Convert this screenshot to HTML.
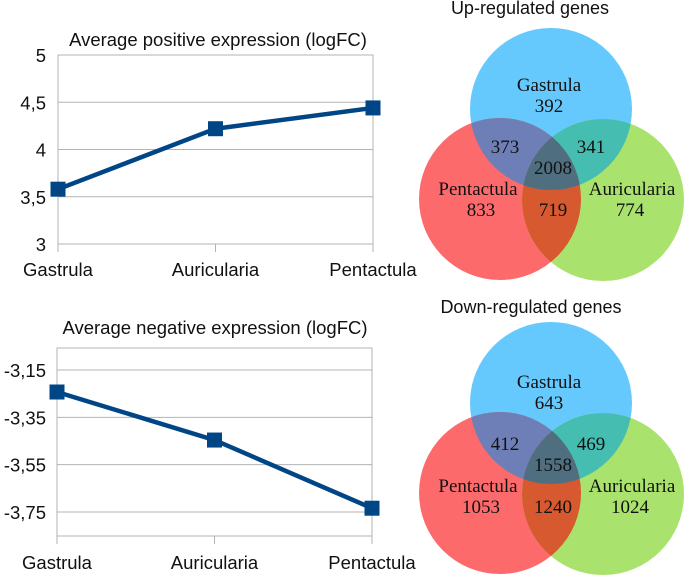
<!DOCTYPE html>
<html><head><meta charset="utf-8"><style>
body{margin:0;background:#fff;width:685px;height:576px;overflow:hidden}
svg{display:block}
.s{font-family:"Liberation Sans",sans-serif;fill:#111}
.v{font-family:"Liberation Serif",serif;font-size:19px;fill:#111;text-anchor:middle}
</style></head><body>
<svg id="c" width="685" height="576">
<text class="s" x="530" y="14" font-size="18" text-anchor="middle">Up-regulated genes</text>
<text class="s" x="531" y="313" font-size="18" text-anchor="middle">Down-regulated genes</text>
</svg>
<script>
const categories=["Gastrula","Auricularia","Pentactula"];
const posValues=[3.58,4.22,4.44];
const posTicks=[3,3.5,4,4.5,5];
const posTickLabels=["3","3,5","4","4,5","5"];
const negValues=[-3.243,-3.446,-3.734];
const negTicks=[-3.15,-3.35,-3.55,-3.75];
const negTickLabels=["-3,15","-3,35","-3,55","-3,75"];
const upCounts=["392","373","341","2008","833","719","774"];
const downCounts=["643","412","469","1558","1053","1240","1024"];
const NS="http://www.w3.org/2000/svg";
const svg=document.getElementById('c');
function el(t,a,p){const e=document.createElementNS(NS,t);for(const k in a)e.setAttribute(k,a[k]);(p||svg).appendChild(e);return e;}
function chart(o){
  const g=el('g',{});
  
  
  const y=v=>o.y0+(v-o.vmin)/(o.vmax-o.vmin)*(o.y1-o.y0);
  const x=i=>o.x0+i*(o.x1-o.x0)/(categories.length-1);
  const tt=el('text',{class:'s',x:o.tx,y:o.ty,'font-size':18.5,'text-anchor':'middle'},g);tt.textContent=o.title;
  
  
  o.ticks.forEach((t,i)=>{
    el('line',{x1:o.x0,x2:o.x1,y1:y(t),y2:y(t),stroke:'#b3b3b3','stroke-width':1},g);
    const l=el('text',{class:'s',x:46,y:y(t)+7,'font-size':18.5,'text-anchor':'end'},g);l.textContent=o.labels[i];
    
    
  });
  el('rect',{x:o.x0,y:o.top,width:o.x1-o.x0,height:o.bot-o.top,fill:'none',stroke:'#b3b3b3'},g);
  categories.forEach((c,i)=>{
    el('line',{x1:x(i),x2:x(i),y1:o.bot,y2:o.bot+8,stroke:'#b3b3b3'},g);
    const l=el('text',{class:'s',x:x(i),y:o.ly,'font-size':18.5,'text-anchor':'middle'},g);l.textContent=c;
    
    
  });
  const pts=o.values.map((v,i)=>x(i)+','+y(v)).join(' ');
  const pl=el('polyline',{points:pts,fill:'none',stroke:'#004586','stroke-width':4.5},g);
  
  
  o.values.forEach((v,i)=>{
    const r=el('rect',{x:x(i)-7.5,y:y(v)-7.5,width:15,height:15,fill:'#004586'},g);
    
    
  });
}
chart({name:'positive-expression-chart',title:'Average positive expression (logFC)',tx:218,ty:46,x0:58,x1:373,y0:244,y1:55,vmin:3,vmax:5,top:55,bot:244,ly:276,values:posValues,ticks:posTicks,labels:posTickLabels});
chart({name:'negative-expression-chart',title:'Average negative expression (logFC)',tx:215,ty:334,x0:57,x1:372,y0:370,y1:512,vmin:-3.15,vmax:-3.75,top:348,bot:536,ly:569,values:negValues,ticks:negTicks,labels:negTickLabels});
let cid=0;
function venn(dy,tdy,counts,name){
  const g=el('g',{});
  
  
  const B=[551,109+dy],R=[500,199+dy],G=[603,200+dy],r=81;
  const clip=c=>{const id='cp'+(cid++);const cp=el('clipPath',{id:id},g);el('circle',{cx:c[0],cy:c[1],r:r},cp);return 'url(#'+id+')';};
  const cb=clip(B),cg=clip(G);
  const cir=(c,f,p,n)=>{const e=el('circle',{cx:c[0],cy:c[1],r:r,fill:f},p);return e;};
  cir(B,'#66c9fd',g,'gastrula-circle');
  cir(R,'#fd6a6b',g,'pentactula-circle');
  cir(G,'#a9e26c',g,'auricularia-circle');
  const g1=el('g',{'clip-path':cb},g);cir(R,'#6e7fb8',g1,'gastrula-pentactula-overlap');cir(G,'#45bdb1',g1,'gastrula-auricularia-overlap');
  const g2=el('g',{'clip-path':cg},g);cir(R,'#d6592f',g2,'pentactula-auricularia-overlap');
  const g3=el('g',{'clip-path':cb},g);const g4=el('g',{'clip-path':cg},g3);cir(R,'#4f6f80',g4,'center-overlap');
  const lab=[["Gastrula",549,91],[counts[0],549,112],[counts[1],505,153],[counts[2],591,153],[counts[3],553,174],["Pentactula",478,195],[counts[4],481,216],[counts[5],553,216],["Auricularia",632,195],[counts[6],630,216]];
  lab.forEach(l=>{const t=el('text',{class:'v',x:l[1],y:l[2]+tdy},g);t.textContent=l[0];
    
    });
}
venn(0,0,upCounts,'up-regulated-venn');
venn(294,297,downCounts,'down-regulated-venn');
</script>
</body></html>
